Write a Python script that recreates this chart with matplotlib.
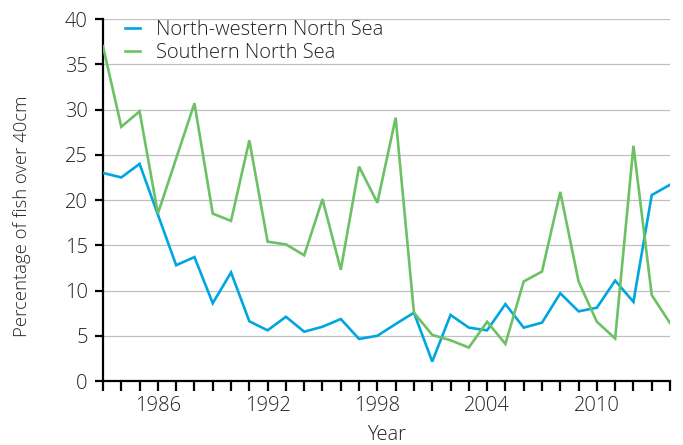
import numpy as np
import matplotlib
matplotlib.use("Agg")
from matplotlib import pyplot as plt
from matplotlib.ticker import MultipleLocator

plt.rcParams['font.family'] = ['Open Sans', 'DejaVu Sans']
plt.rcParams['font.weight'] = 'light'
plt.rcParams['axes.labelweight'] = 'light'

# anos e percentagens de peixe acima de 40cm
anos = list(range(1983, 2015))
noroeste = [23.0, 22.5, 24.0, 18.4, 12.8, 13.7, 8.6, 12.0, 6.6, 5.6,
            7.1, 5.45, 6.0, 6.85, 4.65, 5.0, 6.3, 7.55, 2.15, 7.3,
            5.9, 5.6, 8.5, 5.9, 6.45, 9.7, 7.7, 8.1, 11.1, 8.75,
            20.55, 21.7]
sul = [37.0, 28.1, 29.8, 18.5, 24.6, 30.7, 18.5, 17.7, 26.6, 15.4,
       15.1, 13.9, 20.1, 12.3, 23.7, 19.7, 29.1, 7.55, 5.1, 4.5,
       3.7, 6.55, 4.1, 11.0, 12.1, 20.9, 11.0, 6.55, 4.7, 26.0,
       9.5, 6.4]
rotulos_x = [1986, 1992, 1998, 2004, 2010]

cor_texto = '#222222'

fig = plt.figure(figsize=(6.83, 4.45), dpi=100)
ax = fig.add_axes([0.1508, 0.1438, 0.981 - 0.1508, 0.957 - 0.1438])

ax.plot(anos, noroeste, color='#00a6e0', lw=1.9, label='North-western North Sea',
        solid_joinstyle='miter', zorder=3)
ax.plot(anos, sul, color='#6cc164', lw=1.9, label='Southern North Sea',
        solid_joinstyle='miter', zorder=3)

ax.set_xlim(anos[0], anos[-1])
ax.set_ylim(0, 40)
ax.yaxis.set_major_locator(MultipleLocator(5))
ax.set_xticks(rotulos_x)
ax.set_xticklabels([str(a) for a in rotulos_x])
ax.xaxis.set_minor_locator(MultipleLocator(1))

# grelha horizontal cinzenta
ax.grid(axis='y', color='#c0c0c0', lw=0.9)
ax.set_axisbelow(True)

for lado in ['top', 'right']:
    ax.spines[lado].set_visible(False)
for lado in ['left', 'bottom']:
    ax.spines[lado].set_linewidth(1.6)
    ax.spines[lado].set_color('black')

ax.tick_params(axis='x', which='both', direction='out', length=7, width=1.6,
               labelsize=14.5, pad=4, colors='black', labelcolor=cor_texto)
ax.tick_params(axis='y', which='major', direction='out', length=6, width=1.6,
               labelsize=14.5, pad=5, colors='black', labelcolor=cor_texto)

ax.set_xlabel('Year', fontsize=14.5, color=cor_texto, labelpad=6)
ax.set_ylabel('Percentage of fish over 40cm', fontsize=13.3, color=cor_texto)
ax.yaxis.set_label_coords(-0.127, 0.456)

leg = ax.legend(loc='upper left', bbox_to_anchor=(0.025, 1.02), frameon=False,
                fontsize=14.5, handlelength=0.75, handletextpad=0.8,
                labelspacing=0.15, borderaxespad=0)
for t in leg.get_texts():
    t.set_color(cor_texto)

fig.savefig('out.png', dpi=100)
